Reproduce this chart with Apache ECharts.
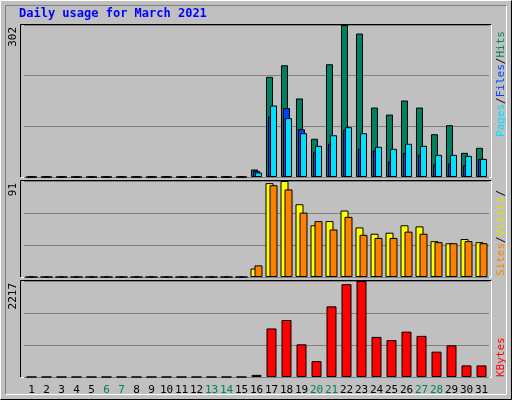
<!DOCTYPE html><html><head><meta charset="utf-8">
<script src="https://cdn.jsdelivr.net/npm/echarts@6/dist/echarts.min.js"></script>
<style>body{margin:0}#c{width:512px;height:400px}</style></head><body><div id="c"></div><script>
const days=[];for(let i=1;i<=31;i++)days.push(String(i));
const weekendDays=['6','7','13','14','20','21','27','28'];
const z=n=>Array(n).fill(0);
const hits=z(15).concat([15,199,222,156,76,224,302,285,138,124,152,138,85,103,48,58]);
const files=z(15).concat([12,120,137,95,50,66,94,56,53,31,48,44,25,27,23,36]);
const pages=z(15).concat([9,142,117,87,62,83,99,87,60,56,66,62,44,44,42,36]);
const visits=z(15).concat([8,89,91,69,49,53,63,47,41,42,49,48,34,32,36,33]);
const sites=z(15).concat([11,87,83,61,53,45,57,40,37,37,43,41,33,32,34,32]);
const kbytes=z(15).concat([49,1121,1316,755,366,1632,2144,2217,926,853,1047,950,585,731,268,268]);
const mH=Math.max(...hits),mV=Math.max(...visits),mK=Math.max(...kbytes);
const grids=[{top:25,h:152},{top:181,h:96},{top:281,h:96}];
const font='"DejaVu Sans Mono",monospace';
const g=[];
// outer bevel
g.push({type:'rect',shape:{x:0,y:0,width:512,height:400},style:{fill:'#c0c0c0'},silent:true,z:-10});
g.push({type:'polyline',shape:{points:[[0.5,399.5],[0.5,0.5],[511.5,0.5]]},style:{stroke:'#fff',lineWidth:1,fill:null},z:-9});
g.push({type:'polyline',shape:{points:[[511.5,0.5],[511.5,399.5],[0.5,399.5]]},style:{stroke:'#000',lineWidth:1,fill:null},z:-9});
g.push({type:'polyline',shape:{points:[[5.5,394.5],[5.5,5.5],[506.5,5.5]]},style:{stroke:'#808080',lineWidth:1,fill:null},z:-9});
g.push({type:'polyline',shape:{points:[[506.5,5.5],[506.5,394.5],[5.5,394.5]]},style:{stroke:'#fff',lineWidth:1,fill:null},z:-9});
grids.forEach(gr=>{
 g.push({type:'polyline',shape:{points:[[20.5,gr.top+gr.h+0.5],[20.5,gr.top-0.5],[491.5,gr.top-0.5]]},style:{stroke:'#000',lineWidth:1,fill:null},z:-5});
 g.push({type:'polyline',shape:{points:[[491.5,gr.top-0.5],[491.5,gr.top+gr.h+0.5],[20.5,gr.top+gr.h+0.5]]},style:{stroke:'#fff',lineWidth:1,fill:null},z:-5});
});
g.push({type:'text',left:19,top:8,style:{text:'Daily usage for March 2021',fill:'#0000ff',font:'bold 12px '+font}});
[[mH,25],[mV,181],[mK,281]].forEach(([v,t])=>{
 g.push({type:'text',x:8,y:t+2,rotation:Math.PI/2,style:{text:String(v),fill:'#000',font:'11px '+font,align:'right',verticalAlign:'top'}});
});
function side(parts,yBottom){
 const rich={};let txt='';
 parts.forEach((p,i)=>{rich['s'+i]={fill:p[1],fontFamily:font,fontSize:11};txt+='{s'+i+'|'+p[0]+'}';});
 g.push({type:'text',x:496,y:yBottom,rotation:Math.PI/2,style:{text:txt,rich:rich,align:'left',verticalAlign:'top'}});
}
side([['Pages','#00e0ff'],['/','#000'],['Files','#0040ff'],['/','#000'],['Hits','#008060']],137);
side([['Sites','#ff8000'],['/','#000'],['Visits','#e0e000'],['/','#000']],276);
side([['KBytes','#ff0000']],377);
const opt={animation:false,graphic:g,
 grid:grids.map(gr=>({left:24,width:465,top:gr.top,height:gr.h})),
 xAxis:[0,1,2].map(i=>({type:'category',gridIndex:i,data:days,axisLine:{show:false},axisTick:{show:false},
  axisLabel:{show:i===2,margin:8,fontFamily:font,fontSize:11,interval:0,color:(v)=>weekendDays.includes(v)?'#008060':'#000'}})),
 yAxis:[mH,mV,mK].map((m,i)=>({type:'value',gridIndex:i,min:0,max:m,interval:m/3,axisLabel:{show:false},axisLine:{show:false},axisTick:{show:false},splitLine:{lineStyle:{color:'#808080',width:1}}})),
 series:[
  {type:'bar',xAxisIndex:0,yAxisIndex:0,data:hits,barWidth:7,barGap:'-71%',itemStyle:{color:'#008060',borderColor:'#000',borderWidth:1}},
  {type:'bar',xAxisIndex:0,yAxisIndex:0,data:files,barWidth:7,barGap:'-71%',itemStyle:{color:'#0040ff',borderColor:'#000',borderWidth:1}},
  {type:'bar',xAxisIndex:0,yAxisIndex:0,data:pages,barWidth:7,barGap:'-71%',itemStyle:{color:'#00e0ff',borderColor:'#000',borderWidth:1}},
  {type:'bar',xAxisIndex:1,yAxisIndex:1,data:visits,barWidth:8,barGap:'-50%',itemStyle:{color:'#ffff00',borderColor:'#000',borderWidth:1}},
  {type:'bar',xAxisIndex:1,yAxisIndex:1,data:sites,barWidth:8,barGap:'-50%',itemStyle:{color:'#ff8000',borderColor:'#000',borderWidth:1}},
  {type:'bar',xAxisIndex:2,yAxisIndex:2,data:kbytes,barWidth:10,itemStyle:{color:'#ff0000',borderColor:'#000',borderWidth:1}}
 ]};
echarts.init(document.getElementById('c')).setOption(opt);
</script></body></html>
